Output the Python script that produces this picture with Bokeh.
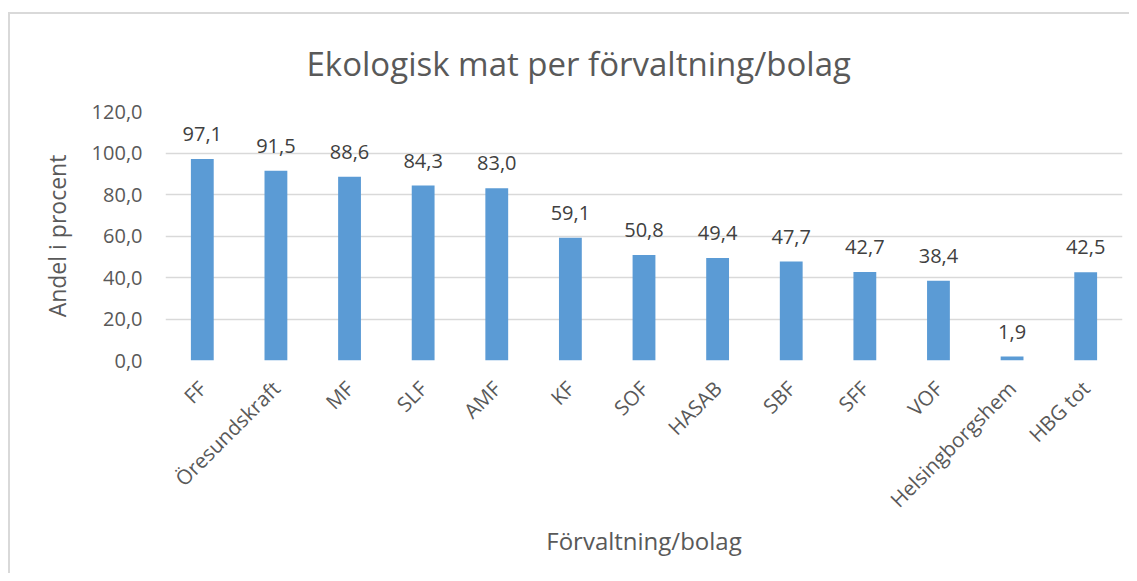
from bokeh.plotting import figure
from bokeh.models import ColumnDataSource, FactorRange, Range1d, LabelSet, FixedTicker, CustomJSTickFormatter, Title
from bokeh.core.properties import value
from bokeh.embed import file_html
from bokeh.resources import INLINE
import math

categories = ["FF", "Öresundskraft", "MF", "SLF", "AMF", "KF", "SOF", "HASAB",
              "SBF", "SFF", "VOF", "Helsingborgshem", "HBG tot"]
values = [97.1, 91.5, 88.6, 84.3, 83.0, 59.1, 50.8, 49.4, 47.7, 42.7, 38.4, 1.9, 42.5]
y_ticks = [0, 20, 40, 60, 80, 100, 120]

labels = [f"{v:.1f}".replace(".", ",") for v in values]
src = ColumnDataSource(dict(cat=categories, val=values, lbl=labels))

FONT = "Open Sans"
GRAY = "#595959"

p = figure(width=1121, height=561, output_backend="svg", toolbar_location=None,
           x_range=FactorRange(*categories, range_padding=0),
           y_range=Range1d(0, 120),
           min_border_left=155, min_border_right=9, min_border_top=97, min_border_bottom=215)
p.styles = {"border-left": "2px solid #d9d9d9", "border-top": "2px solid #d9d9d9",
            "margin-left": "8px", "margin-top": "12px"}

t = Title(text="Ekologisk mat per förvaltning/bolag", align="left", offset=141,
          vertical_align="top",
          text_font=FONT, text_font_size="33px", text_font_style="normal",
          text_color=GRAY, standoff=47)
p.add_layout(t, "above")

p.vbar(x="cat", top="val", width=0.31, source=src, fill_color="#5B9BD5", line_color=None)

p.add_layout(LabelSet(x="cat", y="val", text="lbl", source=src, text_align="center",
                      text_baseline="alphabetic", y_offset=18, text_font=value(FONT),
                      text_font_size=value("20px"), text_color="#404040"))

p.outline_line_color = None
p.background_fill_color = "white"
p.border_fill_color = "white"

p.xgrid.grid_line_color = None
p.ygrid.grid_line_color = "#d9d9d9"
p.ygrid.grid_line_width = 1.3

p.yaxis.ticker = FixedTicker(ticks=y_ticks)
p.yaxis.formatter = CustomJSTickFormatter(code="return tick.toFixed(1).replace('.', ',');")
for ax in (p.xaxis[0], p.yaxis[0]):
    ax.axis_line_color = None
    ax.major_tick_line_color = None
    ax.minor_tick_line_color = None
    ax.major_label_text_font = FONT
    ax.major_label_text_font_size = "20px"
    ax.major_label_text_color = GRAY
    ax.axis_label_text_font = FONT
    ax.axis_label_text_font_size = "23px"
    ax.axis_label_text_font_style = "normal"
    ax.axis_label_text_color = GRAY

p.yaxis.axis_label = "Andel i procent"
p.yaxis.major_label_standoff = 17
p.yaxis.axis_label_standoff = 16

p.xaxis.axis_label = "Förvaltning/bolag"
p.xaxis.axis_label_text_font_size = "24px"
p.xaxis.major_label_text_font_size = "20.5px"
p.xaxis.major_label_orientation = math.pi / 4
p.xaxis.major_label_standoff = 18
p.xaxis.axis_label_standoff = -2

open("out.html", "w").write(file_html(p, INLINE))
